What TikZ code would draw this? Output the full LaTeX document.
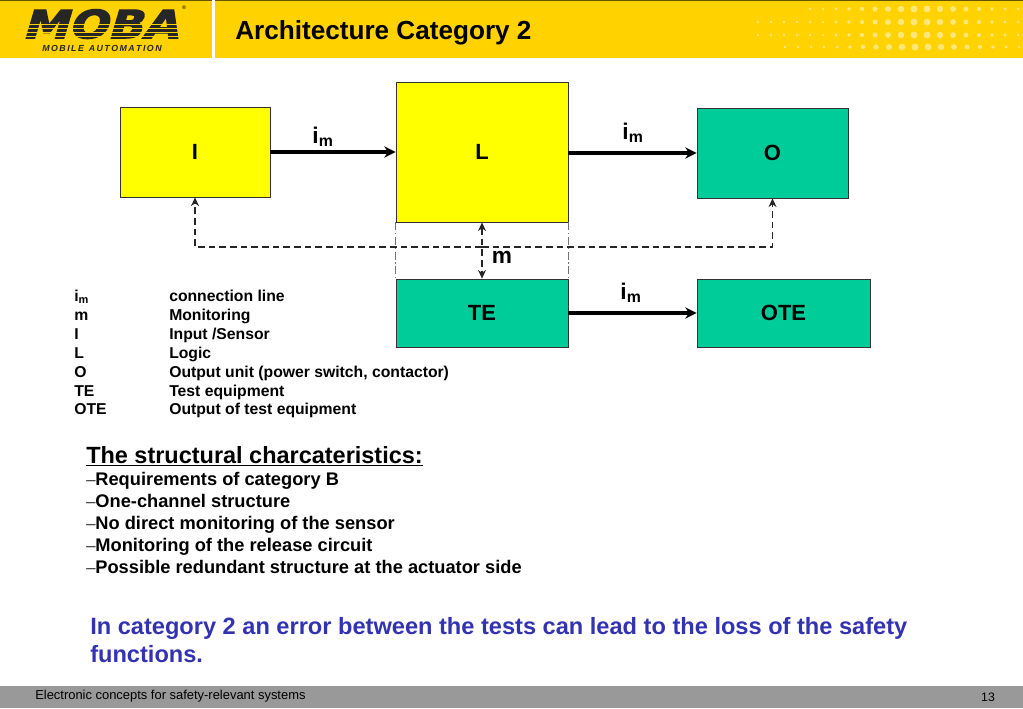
\documentclass[tikz,border=0pt]{standalone}
\usepackage{fontspec}
\setmainfont{Liberation Sans}
\newfontfamily\dashfont{Liberation Serif}
\newfontfamily\logofont[FakeSlant=0.25,FakeBold=3]{DejaVu Sans Bold}
\usetikzlibrary{positioning,arrows.meta,calc}
\definecolor{mobagold}{RGB}{255,210,0}
\definecolor{mobagreen}{RGB}{0,204,153}
\definecolor{mobayellow}{RGB}{255,255,0}
\definecolor{mobablue}{RGB}{51,51,178}
\definecolor{mobagray}{RGB}{153,153,153}
\definecolor{dotgold}{RGB}{255,230,120}
\tikzset{
  blockbox/.style={draw=black!80, line width=0.6pt, inner sep=0pt, font=\fontsize{16.5}{18}\selectfont\bfseries},
  sigarrow/.style={-{Stealth[length=8.5pt,width=8.5pt]}, line width=2.6pt, black},
  montip/.tip={Stealth[length=6.5pt,width=6pt]},
  monarrow/.style={line width=0.8pt, dash pattern=on 5pt off 3pt, black!85},
  guideline/.style={line width=0.5pt, gray!90!black, dash pattern=on 6pt off 2pt on 1pt off 2pt},
  siglabel/.style={font=\fontsize{17}{18}\selectfont\bfseries, inner sep=0pt},
  legendtxt/.style={font=\fontsize{11.8}{13}\selectfont\bfseries, anchor=base west, inner sep=0pt},
  bullettxt/.style={font=\fontsize{13.7}{15}\selectfont\bfseries, anchor=base west, inner sep=0pt}
}
\begin{document}
\begin{tikzpicture}[x=0.75pt, y=-0.75pt, >=Stealth]
  \useasboundingbox (0,0) rectangle (1023,708);

  % header band
  \fill[mobagold] (0,0) rectangle (1023,58);
  \fill[black!60!mobagold] (0,0) rectangle (1023,1);
  \fill[white] (212,0) rectangle (215,58);
  \foreach \row/\ypos/\xfrom in {1/9/810, 2/22/758, 3/35/758, 4/47/785} {
    \foreach \xpos in {\xfrom,\the\numexpr\xfrom+13\relax,...,1020} {
      \pgfmathsetmacro{\rad}{1.3+2.2*exp(-((\xpos-920)/60)^2)}
      \fill[dotgold] (\xpos,\ypos) circle[radius=\rad*0.75pt];
    }
  }
  \node[font=\fontsize{19.6}{21}\selectfont\bfseries, anchor=base west, inner sep=0pt] (title) at (235,39) {Architecture Category 2};

  % logo
  \node[font=\fontsize{27}{28}\logofont, xscale=1.28, yscale=1.08, inner sep=0pt, text height=19.7pt, text depth=0pt, text=black!85] (logo) at (100,24) {MOBA};
  \foreach \ypos in {24,28,32,36} {
    \fill[mobagold] (14,\ypos) rectangle (186,\ypos+1.3);
  }
  \node[font=\fontsize{4}{4}\selectfont, inner sep=0pt] (regmark) at (184,8) {®};
  \node[font=\fontsize{6.6}{8}\selectfont\bfseries\itshape, inner sep=0pt, text=black!85] (logosub) at (102,48) {M\,O\,B\,I\,L\,E\ \ A\,U\,T\,O\,M\,A\,T\,I\,O\,N};

  % blocks
  \node[blockbox, fill=mobayellow, minimum width=112.5pt, minimum height=67.5pt] (I) at (195,152) {I};
  \node[blockbox, fill=mobayellow, minimum width=129pt, minimum height=105pt] (L) at (482,152) {L};
  \node[blockbox, fill=mobagreen, minimum width=113.25pt, minimum height=67.5pt] (O) at (772.5,153) {O};
  \node[blockbox, fill=mobagreen, minimum width=129pt, minimum height=51pt] (TE) at (482,313) {TE};
  \node[blockbox, fill=mobagreen, minimum width=129.75pt, minimum height=51pt] (OTE) at (783.5,313) {OTE};

  % guides between L and TE
  \draw[guideline] (L.south west) -- (TE.north west);
  \draw[guideline] (L.south east) -- (TE.north east);

  % signal lines
  \draw[sigarrow] (I.east) -- (L.west);
  \draw[sigarrow] (L.east |- O.west) -- (O.west);
  \draw[sigarrow] (TE.east) -- (OTE.west);

  % monitoring
  \coordinate (fb) at (482,247);
  \draw[monarrow, -{montip}] (fb) -| (I.south);
  \draw[monarrow, -{montip}] (fb) -| (O.south);
  \draw[monarrow, {montip}-{montip}] (L.south) -- (TE.north);

  \node[siglabel] (imA) at (323,137) {i\textsubscript{m}};
  \node[siglabel] (imB) at (633,133) {i\textsubscript{m}};
  \node[siglabel] (imC) at (631,293) {i\textsubscript{m}};
  \node[siglabel] (mlab) at (502,257) {m};

  % legend
  \foreach \nm/\ypos/\short/\long in {
    la/301/i\textsubscript{m}/connection line,
    lb/320/m/Monitoring,
    lc/339/I/{Input /Sensor},
    ld/358/L/Logic,
    le/377/O/{Output unit (power switch, contactor)},
    lf/396/TE/Test equipment,
    lg/414/OTE/Output of test equipment} {
    \node[legendtxt] (\nm s) at (74,\ypos) {\short};
    \node[legendtxt] (\nm t) at (169,\ypos) {\long};
  }

  % characteristics
  \node[font=\fontsize{17.6}{20}\selectfont\bfseries, anchor=base west, inner sep=0pt] (head) at (86,463) {\underline{The structural charcateristics:}};
  \foreach \nm/\ypos/\txt in {
    ba/485/Requirements of category B,
    bb/507/One-channel structure,
    bc/529/No direct monitoring of the sensor,
    bd/551/Monitoring of the release circuit,
    be/573/Possible redundant structure at the actuator side} {
    \node[bullettxt] (\nm) at (86,\ypos) {{\dashfont\mdseries –}\txt};
  }

  % conclusion
  \node[font=\fontsize{17.7}{21}\selectfont\bfseries, text=mobablue, anchor=north west, inner sep=0pt, align=left] (concl) at (90,617) {In category 2 an error between the tests can lead to the loss of the safety\\functions.};

  % footer
  \fill[mobagray] (0,686) rectangle (1023,708);
  \node[font=\fontsize{9.7}{11}\selectfont, anchor=west, inner sep=0pt] (foot) at (35,696) {Electronic concepts for safety-relevant systems};
  \node[font=\fontsize{9.2}{11}\selectfont, inner sep=0pt] (pageno) at (988,697) {13};
\end{tikzpicture}
\end{document}
